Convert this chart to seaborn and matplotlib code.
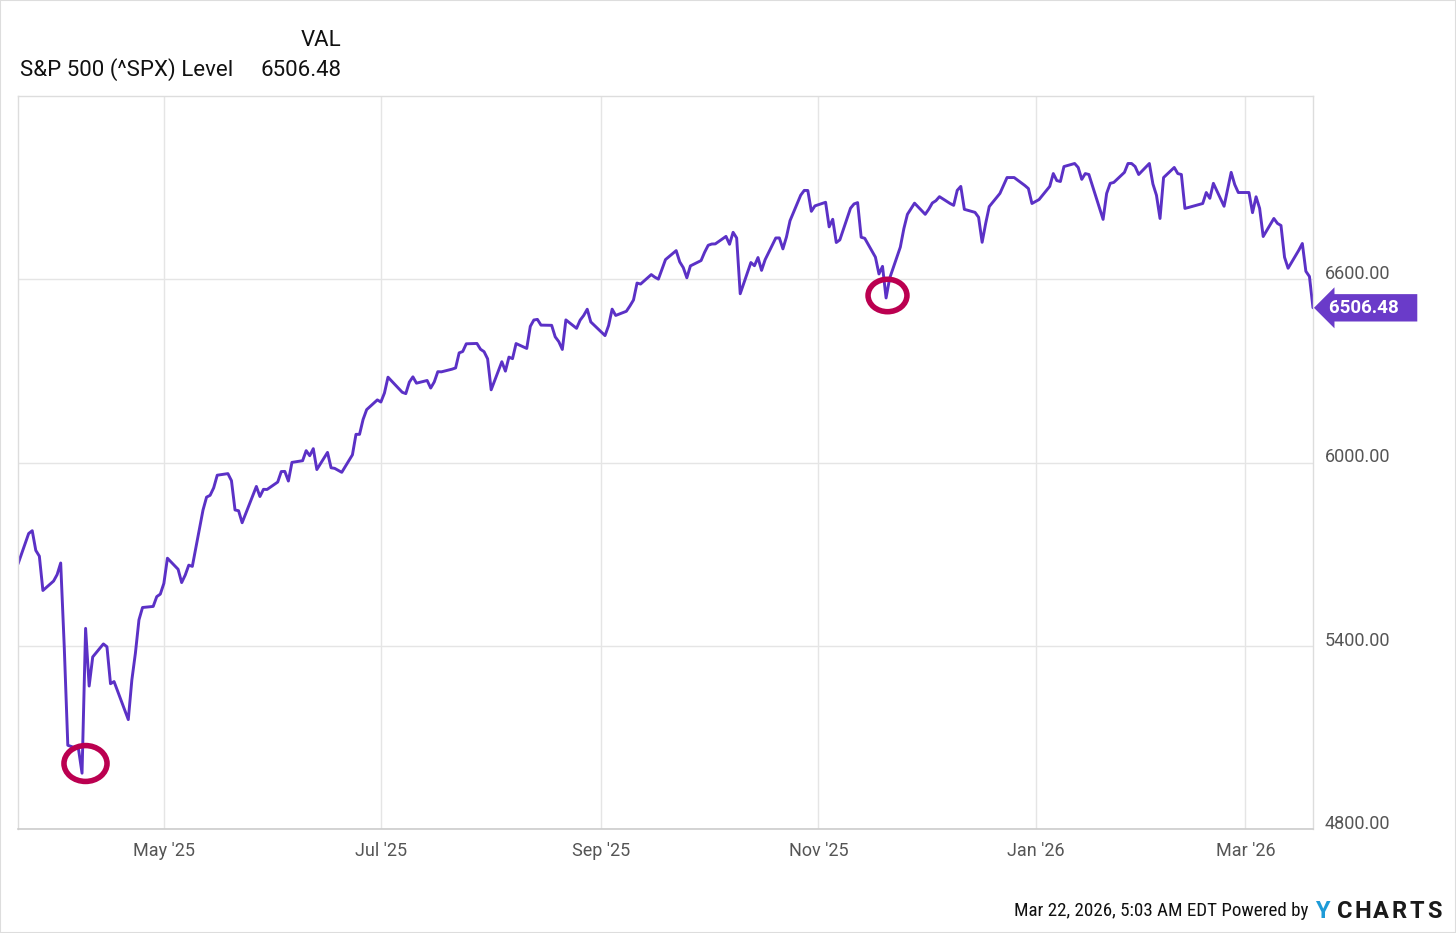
import matplotlib
matplotlib.use("Agg")
import matplotlib.pyplot as plt
import matplotlib.dates as mdates
import matplotlib.transforms as mtransforms
from matplotlib import font_manager
from matplotlib.path import Path
from matplotlib.patches import Rectangle
import pandas as pd
import seaborn as sns

# S&P 500 daily closes, one list per month
mar25 = [5667.56, 5767.57, 5776.65, 5712.20, 5693.31, 5580.94, 5611.85]
apr25 = [5633.07, 5670.97, 5396.52, 5074.08, 5062.25, 4982.77, 5456.90, 5268.05,
         5363.36, 5405.97, 5396.63, 5275.70, 5282.70, 5158.20, 5287.76, 5375.86,
         5484.77, 5525.21, 5528.75, 5560.83, 5569.06]
may25 = [5604.14, 5686.67, 5650.38, 5606.91, 5631.28, 5663.94, 5659.91, 5844.19,
         5886.55, 5892.58, 5916.93, 5958.38, 5963.60, 5940.46, 5844.61, 5842.01,
         5802.82, 5921.54, 5888.55, 5912.17, 5911.69]
jun25 = [5935.94, 5970.37, 5970.81, 5939.30, 6000.36, 6005.88, 6038.81, 6022.24,
         6045.26, 5976.97, 6033.11, 5982.72, 5980.87, 5967.84, 6025.17, 6092.18,
         6092.16, 6141.02, 6173.07, 6204.95]
jul25 = [6198.01, 6227.42, 6279.35, 6229.98, 6225.52, 6263.26, 6280.46, 6259.75,
         6268.56, 6243.76, 6263.70, 6297.36, 6296.79, 6305.60, 6309.62, 6358.91,
         6363.35, 6388.64, 6389.77, 6370.86, 6362.90, 6339.39]
aug25 = [6238.01, 6329.94, 6299.19, 6345.06, 6340.00, 6389.45, 6373.45, 6445.76,
         6466.58, 6468.54, 6449.80, 6449.15, 6411.37, 6395.78, 6370.17, 6466.91,
         6439.32, 6465.94, 6481.40, 6501.86, 6460.26]
sep25 = [6415.54, 6448.26, 6502.08, 6481.50, 6495.15, 6512.61, 6532.04, 6587.47,
         6584.29, 6615.28, 6606.76, 6600.35, 6631.96, 6664.36, 6693.75, 6656.92,
         6637.97, 6604.72, 6643.70, 6661.21, 6688.46]
oct25 = [6711.20, 6715.35, 6715.79, 6740.28, 6714.59, 6753.72, 6735.11, 6552.51,
         6654.72, 6644.31, 6671.06, 6629.07, 6664.01, 6735.13, 6735.35, 6699.40,
         6738.44, 6791.69, 6875.16, 6890.89, 6890.59, 6822.34, 6840.20]
nov25 = [6851.97, 6771.55, 6796.29, 6720.32, 6728.80, 6832.43, 6846.61, 6850.92,
         6737.49, 6734.11, 6672.41, 6617.32, 6642.16, 6538.76, 6602.99, 6705.12,
         6765.88, 6812.61, 6849.09]
dec25 = [6812.63, 6829.37, 6849.72, 6857.12, 6870.40, 6848, 6842, 6891, 6904, 6829,
         6819, 6803, 6721, 6783, 6838, 6881, 6907, 6933, 6933, 6907, 6897, 6848]
jan26 = [6861, 6904, 6946, 6923, 6920, 6969, 6979, 6966, 6927, 6946, 6943, 6796,
         6881, 6914, 6917, 6950, 6979, 6979, 6969, 6943]
feb26 = [6979, 6912, 6875, 6799, 6933, 6966, 6946, 6943, 6832, 6835, 6848, 6884,
         6865, 6914, 6839, 6894, 6950, 6910, 6884]
mar26 = [6884, 6818, 6870, 6832, 6740, 6799, 6783, 6776, 6672, 6636, 6695, 6717,
         6626, 6609, 6506.48]

holidays = ["2025-04-18", "2025-05-26", "2025-06-19", "2025-07-04", "2025-09-01",
            "2025-11-27", "2025-12-25", "2026-01-01", "2026-01-19", "2026-02-16"]

y_ticks = [4800, 5400, 6000, 6600]
circled = ["2025-04-08", "2025-11-20"]

closes = (mar25 + apr25 + may25 + jun25 + jul25 + aug25 + sep25 + oct25 + nov25
          + dec25 + jan26 + feb26 + mar26)
dates = pd.bdate_range("2025-03-21", "2026-03-20", freq="C", holidays=holidays)
df = pd.DataFrame({"Date": dates, "Level": closes})


def narrow_font():
    # footer is set in a condensed face; use one if the box has it
    for name in ["Roboto Condensed", "Liberation Sans Narrow", "DejaVu Sans Condensed"]:
        try:
            font_manager.findfont(font_manager.FontProperties(family=name),
                                  fallback_to_default=False)
            return name, 13.7
        except Exception:
            pass
    return "Roboto", 12.3


sns.set_style("white")
plt.rcParams["font.family"] = ["Roboto", "DejaVu Sans"]

line_col = "#5b31c6"
grid_col = "#e5e5e5"

fig = plt.figure(figsize=(14.56, 9.33), dpi=100)
ax = fig.add_axes([18 / 1456, 104 / 933, 1295 / 1456, 733 / 933])

sns.lineplot(data=df, x="Date", y="Level", color=line_col, linewidth=2.1, ax=ax)

ax.set_xlim(df["Date"].iloc[0], df["Date"].iloc[-1])
ax.set_ylim(4800, 7200)
ax.set_xlabel("")
ax.set_ylabel("")

ax.xaxis.set_major_locator(mdates.MonthLocator(bymonth=[1, 3, 5, 7, 9, 11]))
ax.xaxis.set_major_formatter(mdates.DateFormatter("%b '%y"))
ax.set_yticks(y_ticks)
ax.set_yticklabels([f"{v:.2f}" for v in y_ticks])
ax.yaxis.tick_right()
ax.tick_params(axis="y", length=0, pad=8.5, labelsize=13, labelcolor="#555555")
ax.tick_params(axis="x", length=0, pad=9, labelsize=13, labelcolor="#555555")
plt.setp(ax.get_yticklabels(), va="baseline")

ax.grid(True, color=grid_col, linewidth=1)
for side in ["left", "top", "right"]:
    ax.spines[side].set_color("#dddddd")
    ax.spines[side].set_linewidth(1)
ax.spines["bottom"].set_color("#cccccc")
ax.spines["bottom"].set_linewidth(1.2)

# hand-drawn style circles around the two lows
oval = Path.unit_circle().transformed(mtransforms.Affine2D().scale(1.2, 1.0))
nudges = [(3, 10, 31), (1, 3, 28)]
for d, (dx, dy, size) in zip(circled, nudges):
    row = df[df["Date"] == pd.Timestamp(d)]
    shift = mtransforms.offset_copy(ax.transData, fig=fig, x=dx, y=dy, units="dots")
    ax.plot(row["Date"], row["Level"], marker=oval, markersize=size,
            markerfacecolor="none", markeredgecolor="#bb0050", markeredgewidth=4,
            transform=shift, clip_on=False, zorder=5)

# last value badge (trailing spaces widen the box on the right like the original)
last = df.iloc[-1]
ax.annotate(f"{last['Level']:.2f}" + "   ", xy=(last["Date"], last["Level"]),
            xytext=(11.5, 0), textcoords="offset points", ha="left", va="center",
            fontsize=13.5, fontweight="bold", color="white",
            bbox=dict(boxstyle="larrow,pad=0.25", fc="#6a3bc9", ec="none"),
            annotation_clip=False)

# header
fig.text(341 / 1456, 1 - 41 / 933, "VAL", ha="right", va="center",
         fontsize=16, color="#111111")
fig.text(20 / 1456, 1 - 70 / 933, "S&P 500 (^SPX) Level", ha="left", va="center",
         fontsize=16, color="#111111")
fig.text(341 / 1456, 1 - 70 / 933, f"{last['Level']:.2f}", ha="right", va="center",
         fontsize=16, color="#111111")

# footer
foot_family, foot_size = narrow_font()
fig.text(1308 / 1456, 1 - 911 / 933, "Mar 22, 2026, 5:03 AM EDT Powered by",
         ha="right", va="center", fontsize=foot_size, color="#111111",
         family=[foot_family, "DejaVu Sans"])
fig.text(1322 / 1456, 1 - 911 / 933, "Y", ha="center", va="center",
         fontsize=17, fontweight="bold", color="#1e9bd7")
for i, ch in enumerate("CHARTS"):
    fig.text((1345 + i * 18) / 1456, 1 - 911 / 933, ch, ha="center", va="center",
             fontsize=17, fontweight="bold", color="#1a1a1a")

fig.patches.append(Rectangle((0, 0), 1, 1, transform=fig.transFigure, fill=False,
                             edgecolor="#dddddd", linewidth=1.5))

fig.savefig("out.png", dpi=100, facecolor="white")
